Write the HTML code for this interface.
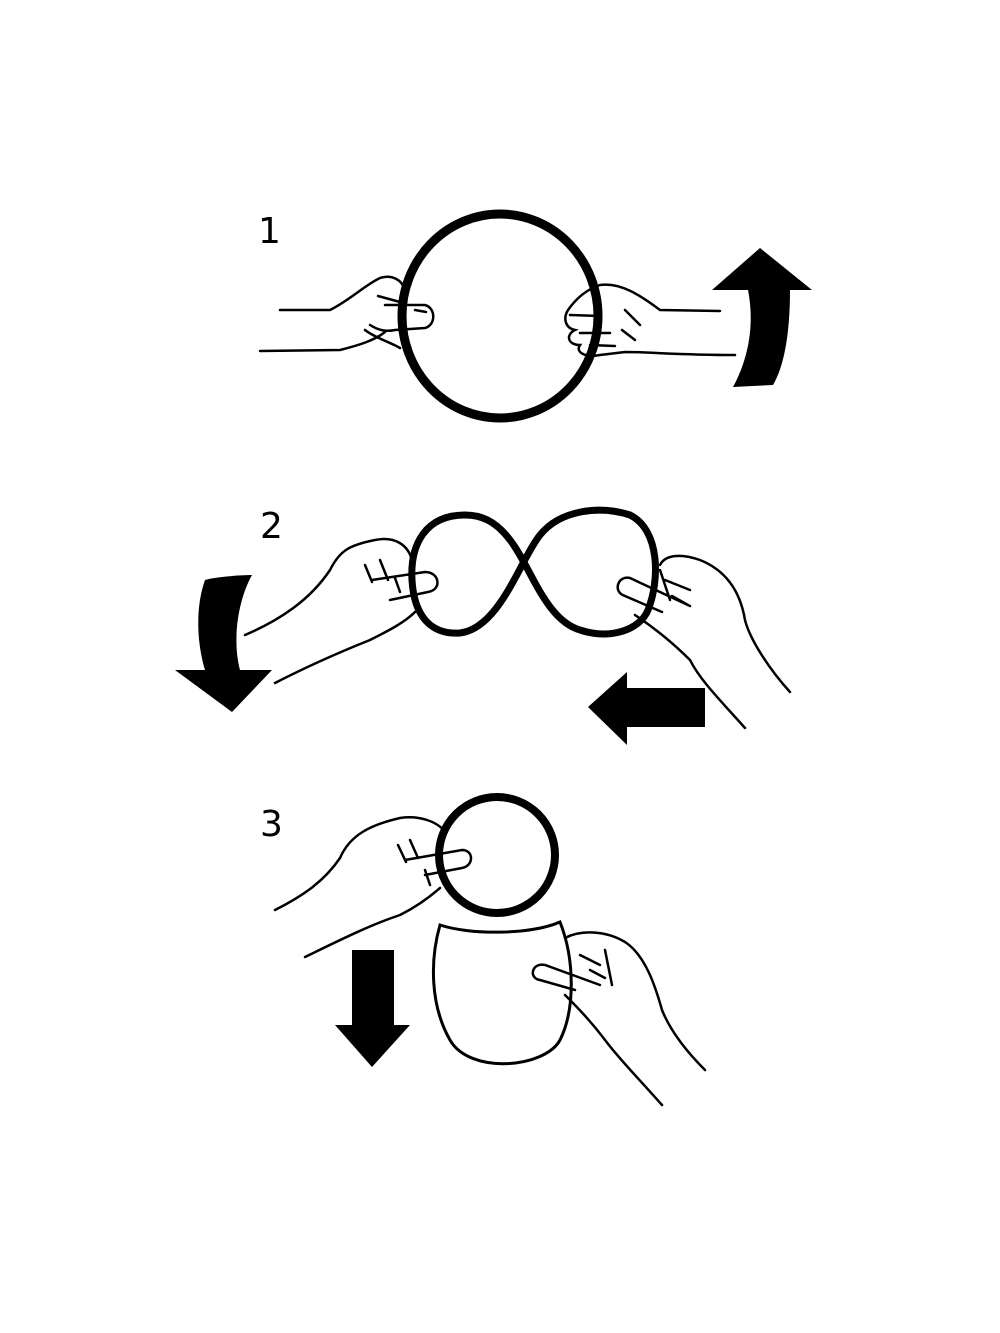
<!DOCTYPE html>
<html><head><meta charset="utf-8"><style>
html,body{margin:0;padding:0;background:#fff;}
svg{display:block}
text{font-family:"DejaVu Sans","Liberation Sans",sans-serif;font-size:36px;fill:#000}
</style></head><body>
<svg width="1000" height="1333" viewBox="0 0 1000 1333" xmlns="http://www.w3.org/2000/svg">
<rect width="1000" height="1333" fill="#fff"/>
<text x="258" y="243">1</text>
<text x="260" y="538">2</text>
<text x="260" y="836">3</text>

<ellipse cx="500" cy="316" rx="98" ry="102" fill="none" stroke="#000" stroke-width="9"/>
<g fill="none" stroke="#000" stroke-width="2.5" stroke-linecap="round">
<path d="M280 310 L330 310 C350 300 365 285 380 278 C392 274 402 280 405 290"/>
<path d="M260 351 L340 350 C360 345 375 340 385 332"/>
<path d="M385 305 L425 305 C436 308 436 325 425 328 L395 330 C385 332 378 330 370 325"/>
<path d="M415 310 L426 312 M378 296 L400 302 M365 330 C375 338 390 342 400 348"/>
<path d="M720 311 L660 310 C640 295 620 282 600 285 C585 290 575 300 568 310 C563 318 565 328 575 330 C565 335 568 345 580 345 C575 352 585 358 600 355 L625 352 C650 352 680 355 735 355"/>
<path d="M570 315 L600 316 M580 333 L610 333 M590 345 L615 346 M625 310 L640 325 M622 330 L635 340"/>
</g>
<path d="M712 290 L760 248 L812 290 L790 290 C790 330 785 365 773 385 L733 387 C748 360 755 325 748 290 Z" fill="#000"/>

<path d="M465 515 C425 515 410 545 412 580 C414 615 430 635 460 633 C500 628 520 560 540 535 C560 510 600 505 630 515 C660 530 660 580 648 610 C640 630 610 640 580 630 C545 620 530 565 510 540 C495 520 480 515 465 515 Z" fill="none" stroke="#000" stroke-width="7"/>
<g fill="none" stroke="#000" stroke-width="2.5" stroke-linecap="round">
<path d="M245 635 C280 620 310 600 330 570 C340 550 350 545 375 540 C395 536 408 545 412 560"/>
<path d="M275 683 C310 665 345 650 370 640 C390 630 405 622 415 612"/>
<path d="M372 580 L425 572 C440 572 442 590 428 592 L390 600 M365 565 L372 582 M380 560 L388 580 M395 578 L400 592"/>
<path d="M790 692 C770 670 750 640 745 620 C740 590 725 570 700 560 C680 553 665 555 660 565"/>
<path d="M745 728 C720 700 700 680 690 660 C670 640 650 625 635 615"/>
<path d="M690 606 L630 578 C618 575 612 592 625 596 L662 612 M665 580 L690 590 M672 596 L688 605 M660 570 L670 600"/>
</g>
<path d="M205 580 C215 577 240 575 252 575 C238 600 232 640 240 670 L272 670 L232 712 L175 670 L205 670 C196 640 196 605 205 580 Z" fill="#000"/>
<path d="M588 707 L627 672 L627 688 L705 688 L705 727 L627 727 L627 745 Z" fill="#000"/>

<circle cx="497" cy="855" r="58" fill="none" stroke="#000" stroke-width="8"/>
<path d="M440 925 C470 935 530 935 560 922 C575 960 575 1010 560 1040 C545 1068 470 1075 450 1040 C430 1005 430 960 440 925 Z" fill="none" stroke="#000" stroke-width="3"/>
<g fill="none" stroke="#000" stroke-width="2.5" stroke-linecap="round">
<path d="M275 910 C305 895 325 880 340 858 C350 835 370 825 400 818 C420 815 438 822 445 832"/>
<path d="M305 957 C340 940 370 925 400 915 C420 905 432 895 440 888"/>
<path d="M405 860 L462 850 C474 850 474 866 462 868 L425 875 M398 845 L406 862 M410 840 L418 858 M425 870 L430 885"/>
<path d="M705 1070 C685 1050 670 1030 662 1010 C655 985 645 955 625 942 C605 930 580 930 565 938"/>
<path d="M662 1105 C640 1080 620 1060 605 1040 C590 1020 575 1005 565 995"/>
<path d="M600 985 L545 965 C532 962 528 978 540 980 L575 990 M580 955 L600 965 M590 970 L605 978 M605 950 L612 985"/>
</g>
<path d="M352 950 L394 950 L394 1025 L410 1025 L372 1067 L335 1025 L352 1025 Z" fill="#000"/>
</svg>
</body></html>
